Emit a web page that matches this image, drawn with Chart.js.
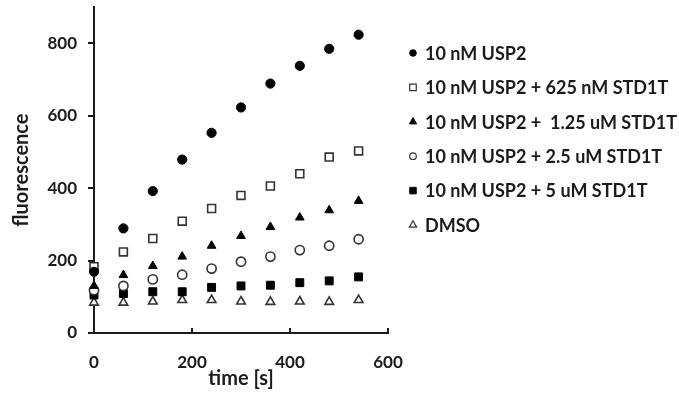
<!DOCTYPE html>
<html lang="en">
<head>
<meta charset="UTF-8">
<title>USP2 fluorescence</title>
<style>
    body { margin: 0; background: #fff; }
    #wrap { width: 679px; height: 398px; }
</style>
<script src="https://cdn.jsdelivr.net/npm/chart.js"></script>
</head>
<body>
<div id="wrap"><canvas id="chart" width="679" height="398"></canvas></div>
<script>
// time points in seconds
var times = [0, 60, 120, 180, 240, 300, 360, 420, 480, 540];

var usp2      = [169, 289, 392, 479, 553, 623, 689, 738, 785, 824];
var std625nM  = [183, 224, 261, 309, 344, 380, 406, 440, 486, 503];
var std125uM  = [130, 160, 185, 211, 241, 268, 293, 319, 339, 365];
var std25uM   = [118, 130, 148, 161, 178, 197, 211, 229, 241, 259];
var std5uM    = [105, 109, 114, 114, 126, 130, 132, 139, 144, 155];
var dmso      = [84, 84, 87, 91, 91, 87, 86, 87, 86, 91];

var seriesNames = [
    '10 nM USP2',
    '10 nM USP2 + 625 nM STD1T',
    '10 nM USP2 +  1.25 uM STD1T',
    '10 nM USP2 + 2.5 uM STD1T',
    '10 nM USP2 + 5 uM STD1T',
    'DMSO'
];
var xTicks = [0, 200, 400, 600];
var yTicks = [0, 200, 400, 600, 800];

var ink = '#1b1b1b';
var font = 'Lato';

function toPoints(vals) {
    return vals.map(function(v, i) { return { x: times[i], y: v }; });
}

function makeSet(label, vals, style, filled, radius) {
    return {
        label: label,
        data: toPoints(vals),
        pointStyle: style,
        pointRadius: radius,
        pointHoverRadius: radius,
        backgroundColor: filled ? '#000' : '#fff',
        borderColor: filled ? '#000' : '#333',
        borderWidth: filled ? 1 : 1.6,
        clip: false
    };
}

var datasets = [
    makeSet(seriesNames[0], usp2, 'circle', true, 4.6),
    makeSet(seriesNames[1], std625nM, 'rect', false, 5.6),
    makeSet(seriesNames[2], std125uM, 'triangle', true, 5),
    makeSet(seriesNames[3], std25uM, 'circle', false, 4.6),
    makeSet(seriesNames[4], std5uM, 'rect', true, 5.6),
    makeSet(seriesNames[5], dmso, 'triangle', false, 5)
];

// legend drawn to the right of the plot, small markers like the original
var sideLegend = {
    id: 'sideLegend',
    afterDraw: function(chart) {
        var ctx = chart.ctx;
        var x = chart.chartArea.right + 25;
        var y = 53;
        var sizes = { circle: 3.3, rect: 4.6, triangle: 4.2 };
        ctx.save();
        ctx.font = 'bold 18px ' + font;
        ctx.textBaseline = 'middle';
        ctx.textAlign = 'left';
        chart.data.datasets.forEach(function(ds, i) {
            var cy = y + i * 34.4;
            ctx.fillStyle = ds.backgroundColor;
            ctx.strokeStyle = ds.borderColor;
            ctx.lineWidth = ds.backgroundColor === '#fff' ? 1.2 : 1;
            Chart.helpers.drawPoint(ctx, {
                pointStyle: ds.pointStyle,
                radius: sizes[ds.pointStyle],
                rotation: 0,
                borderWidth: ctx.lineWidth
            }, x, cy);
            ctx.fillStyle = ink;
            ctx.fillText(ds.label, x + 12, cy + 1);
        });
        ctx.restore();
    }
};

new Chart(document.getElementById('chart').getContext('2d'), {
    type: 'scatter',
    data: { datasets: datasets },
    plugins: [sideLegend],
    options: {
        responsive: false,
        animation: false,
        layout: { padding: { top: 7, right: 291, bottom: 0, left: 0 } },
        plugins: {
            tooltip: { enabled: false },
            legend: { display: false }
        },
        scales: {
            x: {
                type: 'linear',
                min: 0,
                max: 600,
                afterBuildTicks: function(scale) {
                    scale.ticks = xTicks.map(function(v) { return { value: v }; });
                },
                afterFit: function(scale) { scale.height = 65; },
                border: { color: ink, width: 2 },
                grid: { drawOnChartArea: false, drawTicks: true, tickLength: -5, color: ink, lineWidth: 2 },
                ticks: { color: ink, padding: 24, font: { family: font, size: 17, weight: 'bold' } },
                title: { display: true, text: 'time [s]', color: ink, padding: { top: 0, bottom: 7 }, font: { family: font, size: 20, weight: 'bold' } }
            },
            y: {
                min: 0,
                max: 900,
                afterBuildTicks: function(scale) {
                    scale.ticks = yTicks.map(function(v) { return { value: v }; });
                },
                afterFit: function(scale) {
                    scale.width = 94;
                    scale.paddingTop = 0;
                    scale.paddingBottom = 0;
                },
                border: { color: ink, width: 2 },
                grid: { drawOnChartArea: false, drawTicks: true, tickLength: 6, color: ink, lineWidth: 2 },
                ticks: { color: ink, padding: 11, font: { family: font, size: 17, weight: 'bold' } },
                title: { display: true, text: 'fluorescence', color: ink, padding: { top: 10, bottom: 0 }, font: { family: font, size: 20, weight: 'bold' } }
            }
        }
    }
});
</script>
</body>
</html>
